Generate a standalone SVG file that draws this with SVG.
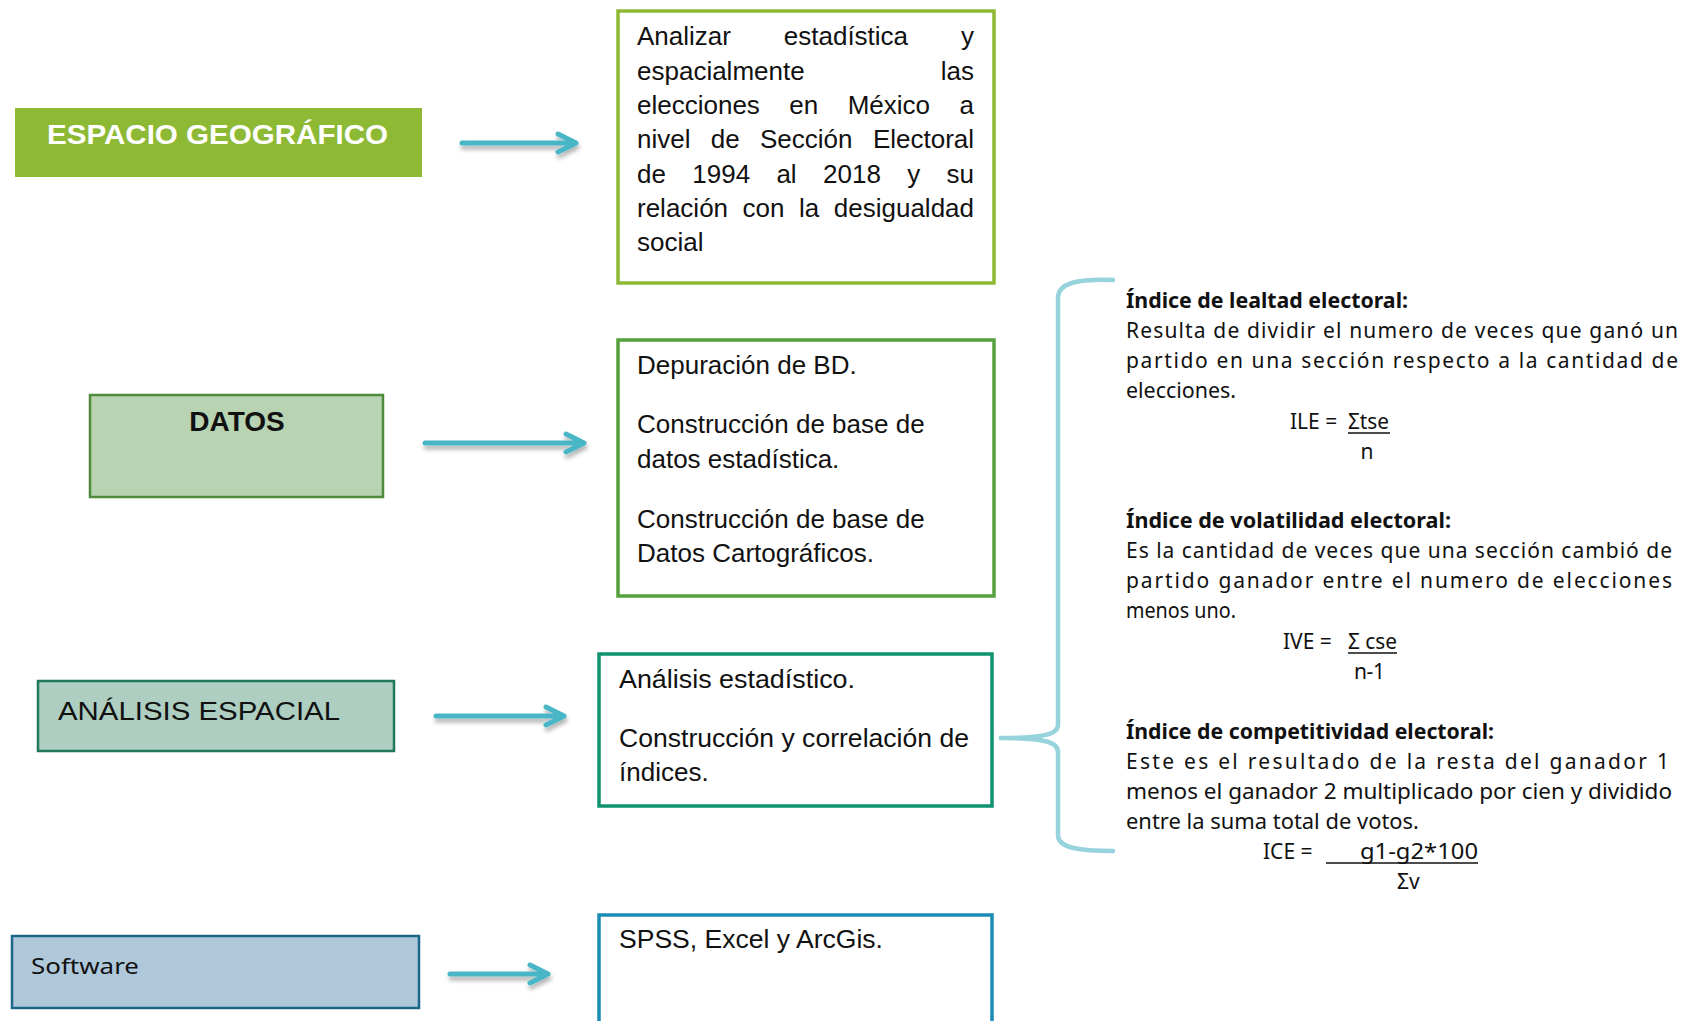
<svg xmlns="http://www.w3.org/2000/svg" width="1682" height="1021" viewBox="0 0 1682 1021">
<defs>
<style>
.t{font-family:"Liberation Sans",Arial,sans-serif;font-size:26px;fill:#111}
.tb{font-family:"Liberation Sans",Arial,sans-serif;font-weight:bold;font-size:28px}
.r{font-family:"Noto Sans",sans-serif;font-size:21px;fill:#111}
.rb{font-family:"Noto Sans",sans-serif;font-size:21px;font-weight:bold;fill:#111}
.box{fill:#fff}
.arr{fill:none;stroke:#4AB6C7;stroke-width:5;stroke-linecap:round;stroke-linejoin:round}
.ul{stroke:#111;stroke-width:1.6}
</style>
<filter id="sh" x="-20%" y="-100%" width="140%" height="300%">
<feDropShadow dx="1" dy="4" stdDeviation="2" flood-color="#000" flood-opacity="0.3"/>
</filter>
</defs>
<rect width="1682" height="1021" fill="#fff"/>

<g id="espacio">
<rect x="15" y="108" width="407" height="69" fill="#8DB935"/>
<text class="tb" x="47" y="144" fill="#fff" textLength="341" lengthAdjust="spacingAndGlyphs">ESPACIO GEOGRÁFICO</text>
</g>

<g id="objetivo">
<rect class="box" x="618" y="11" width="376" height="272" stroke="#8DB935" stroke-width="3.5"/>
<text class="t" y="45"><tspan x="637">Analizar</tspan><tspan x="783.8">estadística</tspan><tspan x="961">y</tspan></text>
<text class="t" y="79.5"><tspan x="637">espacialmente</tspan><tspan x="940.8">las</tspan></text>
<text class="t" y="114"><tspan x="637">elecciones</tspan><tspan x="789.3">en</tspan><tspan x="847.7">México</tspan><tspan x="959.5">a</tspan></text>
<text class="t" y="148"><tspan x="637">nivel</tspan><tspan x="710.8">de</tspan><tspan x="760">Sección</tspan><tspan x="872.9">Electoral</tspan></text>
<text class="t" y="182.5"><tspan x="637">de</tspan><tspan x="692.3">1994</tspan><tspan x="776.4">al</tspan><tspan x="823">2018</tspan><tspan x="907.2">y</tspan><tspan x="946.5">su</tspan></text>
<text class="t" y="217"><tspan x="637">relación</tspan><tspan x="742.6">con</tspan><tspan x="799.1">la</tspan><tspan x="833.8">desigualdad</tspan></text>
<text class="t" x="637" y="251">social</text>
</g>

<g id="datos">
<rect x="90" y="395" width="293" height="102" fill="#B8D3B1" stroke="#4E8B3A" stroke-width="2.5"/>
<text class="tb" x="237" y="431" fill="#111" text-anchor="middle">DATOS</text>
</g>

<g id="datos-tareas">
<rect class="box" x="618" y="340" width="376" height="256" stroke="#56A03E" stroke-width="3.5"/>
<text class="t" x="637" y="374">Depuración de BD.</text>
<text class="t" x="637" y="433">Construcción de base de</text>
<text class="t" x="637" y="468">datos estadística.</text>
<text class="t" x="637" y="528">Construcción de base de</text>
<text class="t" x="637" y="562">Datos Cartográficos.</text>
</g>

<g id="analisis">
<rect x="38" y="681" width="356" height="70" fill="#ADCEC1" stroke="#1E7A5A" stroke-width="2.5"/>
<text class="t" x="58" y="720" font-size="29" textLength="282" lengthAdjust="spacingAndGlyphs">ANÁLISIS ESPACIAL</text>
</g>

<g id="analisis-tareas">
<rect class="box" x="599" y="654" width="393" height="152" stroke="#0E9270" stroke-width="3.5"/>
<text class="t" x="619" y="688" textLength="236" lengthAdjust="spacingAndGlyphs">Análisis estadístico.</text>
<text class="t" x="619" y="747" textLength="350" lengthAdjust="spacingAndGlyphs">Construcción y correlación de</text>
<text class="t" x="619" y="781">índices.</text>
</g>

<g id="software">
<rect x="12" y="936" width="407" height="72" fill="#AFC8DA" stroke="#1C6788" stroke-width="2.5"/>
<text class="r" x="31" y="974" font-size="24" textLength="108" lengthAdjust="spacingAndGlyphs">Software</text>
</g>

<g id="software-lista">
<rect class="box" x="599" y="915" width="393" height="130" stroke="#1B8CB6" stroke-width="3.5"/>
<text class="t" x="619" y="948" textLength="264" lengthAdjust="spacingAndGlyphs">SPSS, Excel y ArcGis.</text>
</g>

<g id="indices">
<text class="rb" x="1126" y="308" textLength="282" lengthAdjust="spacingAndGlyphs">Índice de lealtad electoral:</text>
<text class="r" x="1126" y="338" textLength="552" lengthAdjust="spacing">Resulta de dividir el numero de veces que ganó un</text>
<text class="r" x="1126" y="368" textLength="552" lengthAdjust="spacing">partido en una sección respecto a la cantidad de</text>
<text class="r" x="1126" y="398" textLength="110" lengthAdjust="spacingAndGlyphs">elecciones.</text>
<text class="r" x="1290" y="429">ILE =</text>
<text class="r" x="1348" y="429" textLength="41" lengthAdjust="spacingAndGlyphs">Σtse</text>
<line class="ul" x1="1348" y1="433" x2="1390" y2="433"/>
<text class="r" x="1367" y="459" text-anchor="middle">n</text>

<text class="rb" x="1126" y="528" textLength="325" lengthAdjust="spacingAndGlyphs">Índice de volatilidad electoral:</text>
<text class="r" x="1126" y="558" textLength="546" lengthAdjust="spacing">Es la cantidad de veces que una sección cambió de</text>
<text class="r" x="1126" y="588" textLength="546" lengthAdjust="spacing">partido ganador entre el numero de elecciones</text>
<text class="r" x="1126" y="618" textLength="110" lengthAdjust="spacingAndGlyphs">menos uno.</text>
<text class="r" x="1283" y="649">IVE =</text>
<text class="r" x="1348" y="649" textLength="49" lengthAdjust="spacingAndGlyphs">Σ cse</text>
<line class="ul" x1="1348" y1="653" x2="1397" y2="653"/>
<text class="r" x="1354" y="679" textLength="31" lengthAdjust="spacing">n-1</text>

<text class="rb" x="1126" y="739" textLength="368" lengthAdjust="spacingAndGlyphs">Índice de competitividad electoral:</text>
<text class="r" x="1126" y="769" textLength="543" lengthAdjust="spacing">Este es el resultado de la resta del ganador 1</text>
<text class="r" x="1126" y="799" textLength="546" lengthAdjust="spacingAndGlyphs">menos el ganador 2 multiplicado por cien y dividido</text>
<text class="r" x="1126" y="829" textLength="293" lengthAdjust="spacingAndGlyphs">entre la suma total de votos.</text>
<text class="r" x="1263" y="859">ICE =</text>
<text class="r" x="1360" y="859" textLength="118" lengthAdjust="spacingAndGlyphs">g1-g2*100</text>
<line class="ul" x1="1326" y1="863" x2="1478" y2="863"/>
<text class="r" x="1397" y="889">Σv</text>
</g>

<g id="connectors">
<g filter="url(#sh)">
<path class="arr" d="M462,143 H576 M558,134 L576,143 L558,152"/>
<path class="arr" d="M425,443 H584 M566,434 L584,443 L566,452"/>
<path class="arr" d="M436,716 H564 M546,707 L564,716 L546,725"/>
<path class="arr" d="M450,974 H548 M530,965 L548,974 L530,983"/>
</g>
<path d="M1113,280 C1080,279 1059,282 1058,297 L1058,725 C1058,734 1045,738 999,738 C1045,738 1058,742 1058,752 L1058,836 C1059,848 1080,851 1113,851" fill="none" stroke="#96D3DC" stroke-width="4.5" stroke-linecap="round"/>
</g>
</svg>
